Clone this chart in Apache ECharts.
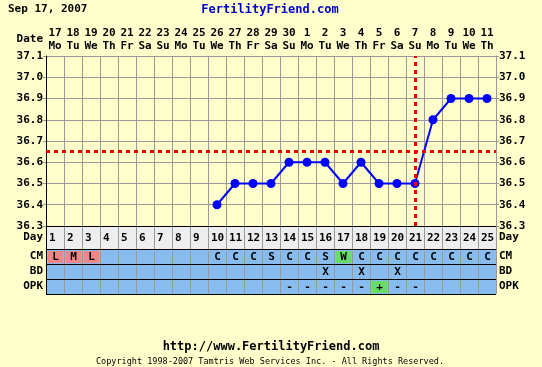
<!DOCTYPE html>
<html>
<head>
<meta charset="utf-8">
<script src="https://cdn.jsdelivr.net/npm/echarts@6/dist/echarts.min.js"></script>
<style>
html,body{margin:0;padding:0;background:#ffffcc;}
#chart{width:542px;height:367px;}
</style>
</head>
<body>
<div id="chart"></div>
<script>
// ---- data ----
const dayNums = ['1','2','3','4','5','6','7','8','9','10','11','12','13','14','15','16','17','18','19','20','21','22','23','24','25'];
const dates = ['17','18','19','20','21','22','23','24','25','26','27','28','29','30','1','2','3','4','5','6','7','8','9','10','11'];
const weekdays = ['Mo','Tu','We','Th','Fr','Sa','Su','Mo','Tu','We','Th','Fr','Sa','Su','Mo','Tu','We','Th','Fr','Sa','Su','Mo','Tu','We','Th'];
const temps = [null,null,null,null,null,null,null,null,null,36.4,36.5,36.5,36.5,36.6,36.6,36.6,36.5,36.6,36.5,36.5,36.5,36.8,36.9,36.9,36.9];
const coverline = 36.65;
const ovulationDay = '21';
const tableRows = ['CM','BD','OPK'];
const cmCodes  = ['L','M','L','','','','','','','C','C','C','S','C','C','S','W','C','C','C','C','C','C','C','C'];
const bdCodes  = ['','','','','','','','','','','','','','','','X','','X','','X','','','','',''];
const opkCodes = ['','','','','','','','','','','','','','-','-','-','-','-','+','-','-','','','',''];
const titleText = 'Sep 17, 2007';
const siteText = 'FertilityFriend.com';
const footerUrl = 'http://www.FertilityFriend.com';
const copyrightText = 'Copyright 1998-2007 Tamtris Web Services Inc. - All Rights Reserved.';

// ---- styles ----
const BG = '#ffffcc';
const GRID = '#999999';
const ROWBLUE = '#88bbee';
const DAYGRAY = '#eeeeee';
const SALMON = '#ee8888';
const GREEN = '#66dd66';
const FONT = 'bold 11px "DejaVu Sans Mono", monospace';
const lbl = {fontFamily:'"DejaVu Sans Mono", monospace', fontWeight:'bold', fontSize:11, color:'#000'};

const hl = {L:SALMON, M:SALMON, H:SALMON, W:GREEN, '+':GREEN};

const codeRows = [cmCodes, bdCodes, opkCodes];
const tableData = [];
codeRows.forEach((row, r) => row.forEach((c, i) => tableData.push([i, r, c])));
const dayData = dayNums.map((d, i) => [i, 0, d]);

function cellBox(api, x, y) {
  const c = api.coord([x, y]);
  const s = api.size([1, 1]);
  return {x: c[0] - s[0] / 2, y: c[1] - s[1] / 2, w: s[0], h: s[1]};
}

const chart = echarts.init(document.getElementById('chart'), null, {renderer:'canvas'});
chart.setOption({
  backgroundColor: BG,
  animation: false,
  grid: [
    {left:46, right:46, top:56, height:170},
    {left:46, right:46, top:226, height:23},
    {left:46, right:46, top:249, height:45}
  ],
  xAxis: [
    {gridIndex:0, type:'category', data:dayNums, position:'bottom',
     axisLabel:{show:false}, axisTick:{show:false},
     axisLine:{show:true, lineStyle:{color:'#000', width:1}},
     splitLine:{show:true, lineStyle:{color:GRID, width:1}}},
    {gridIndex:0, type:'category', data:weekdays, position:'top',
     axisLine:{show:false}, axisTick:{show:false}, splitLine:{show:false},
     axisLabel:Object.assign({margin:4, interval:0}, lbl)},
    {gridIndex:0, type:'category', data:dates, position:'top', offset:13,
     axisLine:{show:false}, axisTick:{show:false}, splitLine:{show:false},
     axisLabel:Object.assign({margin:4, interval:0}, lbl)},
    {gridIndex:1, type:'category', data:dayNums, show:false},
    {gridIndex:2, type:'category', data:dayNums, show:false}
  ],
  yAxis: [
    {gridIndex:0, type:'value', min:36.3, max:37.1, interval:0.1, position:'left',
     axisLine:{show:true, lineStyle:{color:'#000'}},
     axisTick:{show:true, length:3, lineStyle:{color:GRID}},
     splitLine:{show:true, lineStyle:{color:GRID, width:1}},
     axisLabel:Object.assign({margin:3, formatter:v => v.toFixed(1)}, lbl)},
    {gridIndex:0, type:'value', min:36.3, max:37.1, interval:0.1, position:'right',
     axisLine:{show:true, lineStyle:{color:GRID}},
     axisTick:{show:true, length:3, lineStyle:{color:GRID}},
     splitLine:{show:false},
     axisLabel:Object.assign({margin:3, formatter:v => v.toFixed(1)}, lbl)},
    {gridIndex:1, type:'category', data:['Day'], position:'left',
     axisLine:{show:false}, axisTick:{show:false},
     axisLabel:Object.assign({margin:3}, lbl)},
    {gridIndex:1, type:'category', data:['Day'], position:'right',
     axisLine:{show:false}, axisTick:{show:false},
     axisLabel:Object.assign({margin:3}, lbl)},
    {gridIndex:2, type:'category', data:tableRows, inverse:true, position:'left',
     axisLine:{show:false}, axisTick:{show:false},
     axisLabel:Object.assign({margin:3}, lbl)},
    {gridIndex:2, type:'category', data:tableRows, inverse:true, position:'right',
     axisLine:{show:false}, axisTick:{show:false},
     axisLabel:Object.assign({margin:3}, lbl)}
  ],
  series: [
    {
      type:'line', xAxisIndex:0, yAxisIndex:0, data:temps,
      connectNulls:false,
      symbol:'circle', symbolSize:9,
      lineStyle:{color:'#0000ff', width:2},
      itemStyle:{color:'#0000ff'},
      z:3,
      markLine:{
        silent:true, symbol:['none','none'], label:{show:false},
        lineStyle:{color:'#ee0000', width:3, type:[4,4], opacity:1},
        emphasis:{disabled:true},
        data:[{yAxis:coverline}, {xAxis:ovulationDay}]
      }
    },
    {
      type:'custom', xAxisIndex:3, yAxisIndex:2, data:dayData,
      renderItem:(params, api) => {
        const b = cellBox(api, api.value(0), 0);
        const i = api.value(0);
        return {type:'group', children:[
          {type:'rect', shape:{x:b.x, y:b.y, width:b.w, height:b.h}, style:{fill:DAYGRAY}},
          {type:'line', shape:{x1:Math.round(b.x)+0.5, y1:b.y, x2:Math.round(b.x)+0.5, y2:b.y+b.h}, style:{stroke:i===0?'#000':GRID, lineWidth:1}},
          {type:'line', shape:{x1:Math.round(b.x+b.w)+0.5, y1:b.y, x2:Math.round(b.x+b.w)+0.5, y2:b.y+b.h}, style:{stroke:GRID, lineWidth:1}},
          {type:'line', shape:{x1:b.x, y1:Math.round(b.y)+0.5, x2:b.x+b.w, y2:Math.round(b.y)+0.5}, style:{stroke:'#000', lineWidth:1}},
          {type:'text', style:{text:dayData[params.dataIndex][2], x:b.x+3, y:b.y+b.h/2+1, textAlign:'left', textVerticalAlign:'middle', font:FONT, fill:'#000'}}
        ]};
      }
    },
    {
      type:'custom', xAxisIndex:4, yAxisIndex:4, data:tableData,
      renderItem:(params, api) => {
        const d = tableData[params.dataIndex];
        const b = cellBox(api, d[0], d[1]);
        const code = d[2];
        const kids = [
          {type:'rect', shape:{x:b.x, y:b.y, width:b.w, height:b.h}, style:{fill:ROWBLUE}}
        ];
        if (hl[code]) {
          kids.push({type:'rect', shape:{x:b.x+2, y:b.y+2, width:b.w-3, height:b.h-3}, style:{fill:hl[code]}});
        }
        kids.push(
          {type:'line', shape:{x1:Math.round(b.x)+0.5, y1:b.y, x2:Math.round(b.x)+0.5, y2:b.y+b.h}, style:{stroke:d[0]===0?'#000':GRID, lineWidth:1}},
          {type:'line', shape:{x1:Math.round(b.x+b.w)+0.5, y1:b.y, x2:Math.round(b.x+b.w)+0.5, y2:b.y+b.h}, style:{stroke:GRID, lineWidth:1}},
          {type:'line', shape:{x1:b.x, y1:Math.round(b.y)+0.5, x2:b.x+b.w, y2:Math.round(b.y)+0.5}, style:{stroke:'#000', lineWidth:1}},
          {type:'line', shape:{x1:b.x, y1:Math.round(b.y+b.h)+0.5, x2:b.x+b.w, y2:Math.round(b.y+b.h)+0.5}, style:{stroke:'#000', lineWidth:1}}
        );
        if (code) {
          kids.push({type:'text', style:{text:code, x:b.x+b.w/2+0.5, y:b.y+b.h/2+1, textAlign:'center', textVerticalAlign:'middle', font:FONT, fill:'#000'}});
        }
        return {type:'group', children:kids};
      }
    }
  ],
  graphic: [
    {type:'text', left:8, top:4, style:{text:titleText, font:FONT, fill:'#000'}},
    {type:'text', x:270, y:10, style:{text:siteText, font:'bold 12px "DejaVu Sans Mono", monospace', fill:'#0000cc', textAlign:'center', textVerticalAlign:'middle'}},
    {type:'text', x:43, y:39, style:{text:'Date', font:FONT, fill:'#000', textAlign:'right', textVerticalAlign:'middle'}},
    {type:'text', x:271, y:347, style:{text:footerUrl, font:'bold 12px "DejaVu Sans Mono", monospace', fill:'#000', textAlign:'center', textVerticalAlign:'middle'}},
    {type:'text', x:270, y:362, style:{text:copyrightText, font:'8.5px "DejaVu Sans Mono", monospace', fill:'#000', textAlign:'center', textVerticalAlign:'middle'}}
  ]
});
</script>
</body>
</html>
